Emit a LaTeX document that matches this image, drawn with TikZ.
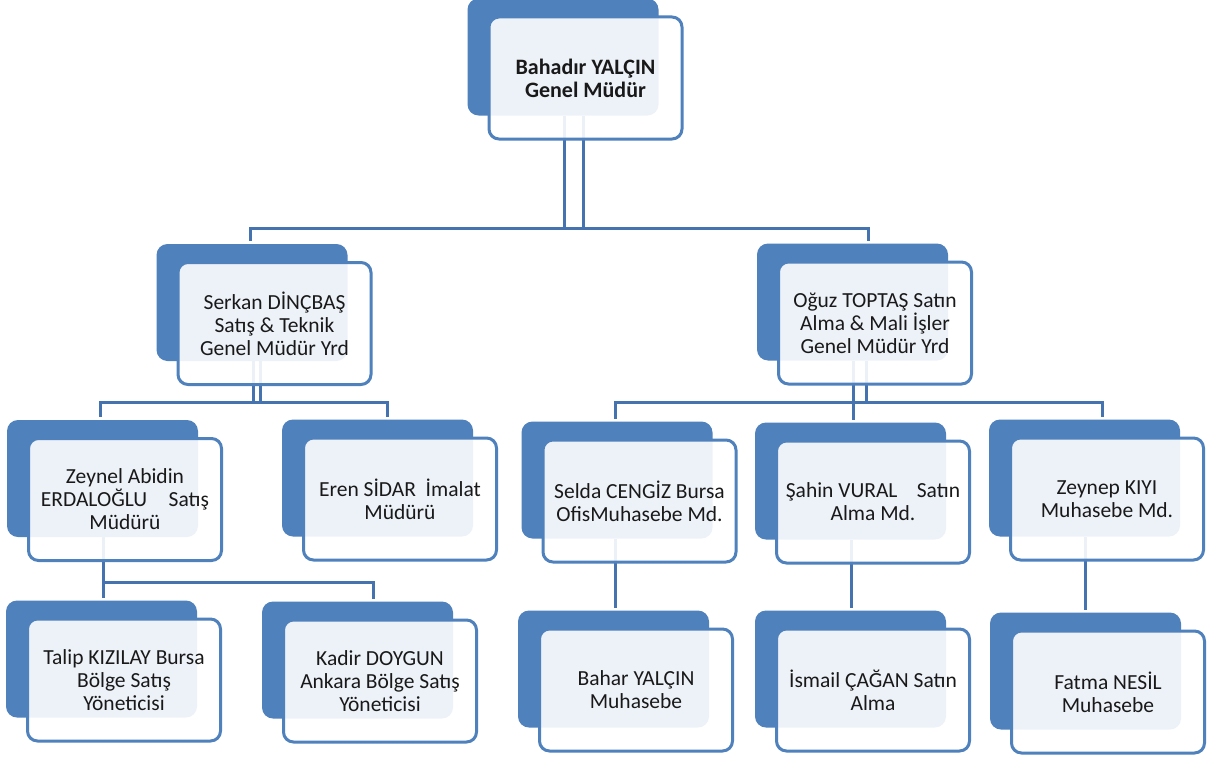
\documentclass[tikz,border=0pt]{standalone}
\usepackage{fontspec}
\setmainfont{Carlito}
\pgfdeclarelayer{back}
\pgfdeclarelayer{lines}
\pgfsetlayers{back,lines,main}
\definecolor{boxblue}{HTML}{4F81BD}
\definecolor{lineblue}{HTML}{4573B0}
\tikzset{
  front/.style={draw=boxblue, line width=3pt, fill=white, fill opacity=0.9, text opacity=1,
    rounded corners=10pt, minimum width=193pt, minimum height=122pt, inner sep=0pt,
    align=center, text=black!90, font=\fontsize{21.5}{23}\selectfont},
  topfont/.style={font=\bfseries\fontsize{22}{23}\selectfont},
  backbox/.style={fill=boxblue, rounded corners=11pt},
  conn/.style={draw=lineblue, line width=3pt}
}
\begin{document}
\begin{tikzpicture}[x=1pt,y=-1pt]
\useasboundingbox (0,0) rectangle (1217,760);
% nodes (front boxes)
\node[front,topfont] (top) at (585.5,78) {Bahadır YALÇIN\\Genel Müdür};
\node[front] (serkan) at (274.5,323.5) {Serkan DİNÇBAŞ\\Satış \& Teknik\\Genel Müdür Yrd};
\node[front] (oguz) at (875,323) {Oğuz TOPTAŞ Satın\\Alma \& Mali İşler\\Genel Müdür Yrd};
\node[front] (zeynel) at (125,499.5) {Zeynel Abidin\\ERDALOĞLU\hspace{1em}Satış\\Müdürü};
\node[front] (eren) at (400,499) {Eren SİDAR\ \ İmalat\\Müdürü};
\node[front] (selda) at (639.5,501) {Selda CENGİZ Bursa\\OfisMuhasebe Md.};
\node[front] (sahin) at (873,502) {Şahin VURAL\hspace{0.9em}Satın\\Alma Md.};
\node[front] (zeynep) at (1107,499) {Zeynep KIYI\\Muhasebe Md.};
\node[front] (talip) at (124,680) {Talip KIZILAY Bursa\\Bölge Satış\\Yöneticisi};
\node[front] (kadir) at (380,681) {Kadir DOYGUN\\Ankara Bölge Satış\\Yöneticisi};
\node[front] (bahar) at (636,690) {Bahar YALÇIN\\Muhasebe};
\node[front] (ismail) at (873,690) {İsmail ÇAĞAN Satın\\Alma};
\node[front] (fatma) at (1108,692) {Fatma NESİL\\Muhasebe};
% back boxes
\begin{pgfonlayer}{back}
\fill[white] (0,0) rectangle (1217,760);
\foreach \n in {top,serkan,oguz,zeynel,eren,selda,sahin,zeynep,talip,kadir,bahar,ismail,fatma}
  \fill[backbox] ([shift={(-20,-17)}]\n.north west) rectangle ([shift={(-25,-25)}]\n.south east);
\end{pgfonlayer}
% connectors
\coordinate (barA) at (0,228);
\coordinate (barB) at (0,402);
\coordinate (barC) at (0,582);
\coordinate (eSerkan) at ([xshift=-24.5pt,yshift=20pt]serkan.north);
\coordinate (eOguz) at ([xshift=-7pt,yshift=20pt]oguz.north);
\coordinate (eZeynel) at ([xshift=-25pt,yshift=20pt]zeynel.north);
\coordinate (eEren) at ([xshift=-13pt,yshift=20pt]eren.north);
\coordinate (eSelda) at ([xshift=-24.5pt,yshift=20pt]selda.north);
\coordinate (eSahin) at ([xshift=-20pt,yshift=20pt]sahin.north);
\coordinate (eZeynep) at ([xshift=-5pt,yshift=20pt]zeynep.north);
\coordinate (eTalip) at ([xshift=-21pt,yshift=20pt]talip.north);
\coordinate (eKadir) at ([xshift=-7pt,yshift=20pt]kadir.north);
\begin{pgfonlayer}{lines}
\draw[conn] ([xshift=-2.5pt,yshift=25pt]top.south) |- (barA -| eSerkan) -- (eSerkan);
\draw[conn] ([xshift=-21.5pt,yshift=25pt]top.south) |- (barA -| eOguz) -- (eOguz);
\draw[conn] ([xshift=-14.5pt,yshift=25pt]serkan.south) |- (barB -| eZeynel) -- (eZeynel);
\draw[conn] ([xshift=-21.5pt,yshift=25pt]serkan.south) |- (barB -| eEren) -- (eEren);
\draw[conn] ([xshift=-9pt,yshift=25pt]oguz.south) |- (barB -| eSelda) -- (eSelda);
\draw[conn] ([xshift=-22pt,yshift=25pt]oguz.south) |- (barB -| eSahin) -- (eSahin);
\draw[conn] ([xshift=-22pt,yshift=25pt]oguz.south) |- (barB -| eZeynep) -- (eZeynep);
\draw[conn] ([xshift=-22pt,yshift=25pt]zeynel.south) |- (barC -| eTalip) -- (eTalip);
\draw[conn] ([xshift=-22pt,yshift=25pt]zeynel.south) |- (barC -| eKadir) -- (eKadir);
\draw[conn] ([xshift=-24.5pt,yshift=25pt]selda.south) -- ([xshift=-21pt,yshift=20pt]bahar.north);
\draw[conn] ([xshift=-22pt,yshift=25pt]sahin.south) -- ([xshift=-22pt,yshift=20pt]ismail.north);
\draw[conn] ([xshift=-22pt,yshift=25pt]zeynep.south) -- ([xshift=-23pt,yshift=20pt]fatma.north);
\end{pgfonlayer}
\end{tikzpicture}
\end{document}
